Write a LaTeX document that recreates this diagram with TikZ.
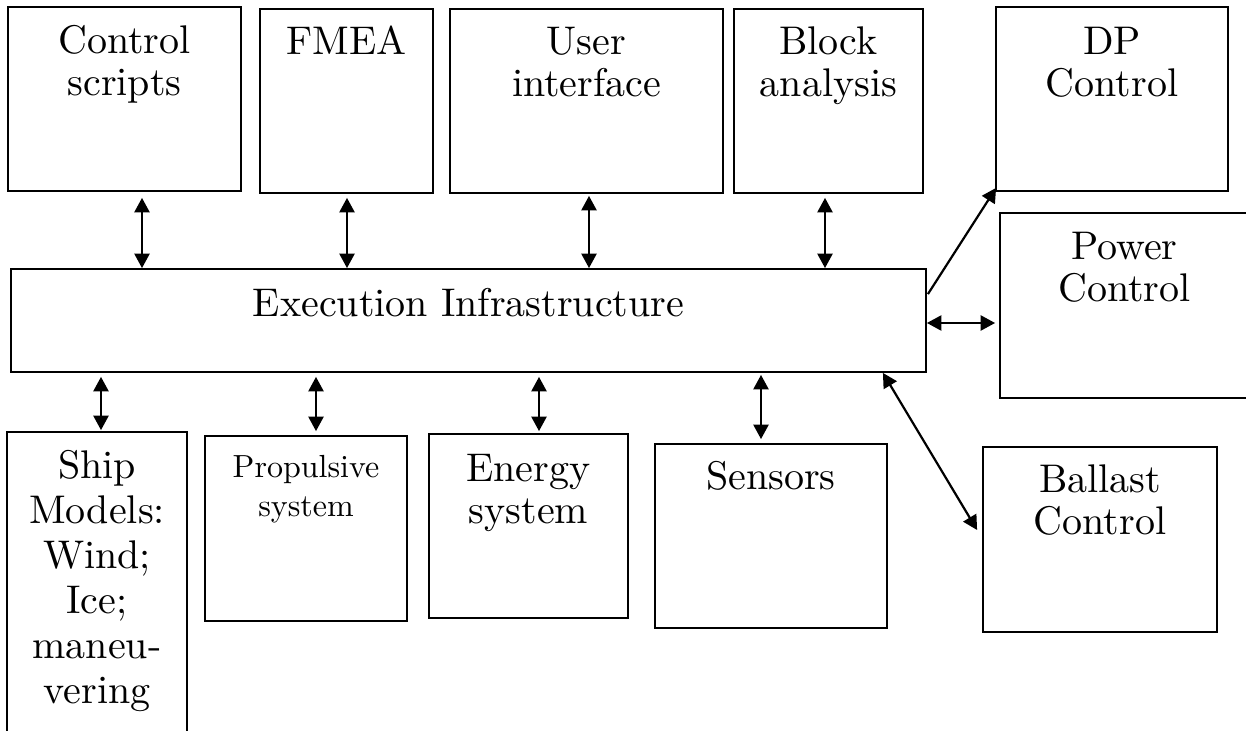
\documentclass[tikz,border=0pt]{standalone}
\usepackage{fontspec}
\setmainfont{lmroman10-regular}[Extension=.otf]
\usetikzlibrary{arrows.meta,calc,fit}

\begin{document}
\begin{tikzpicture}[
  x=0.5pt, y=-0.5pt,
  box/.style={draw, line width=0.9pt, rectangle, inner sep=0pt},
  lbl/.style={anchor=north, inner sep=0pt, align=center,
              font=\fontsize{20}{21}\selectfont},
  shiplbl/.style={lbl, font=\fontsize{20}{22.5}\selectfont},
  smalllbl/.style={lbl, font=\fontsize{16}{19.5}\selectfont},
  bi/.style={line width=1.1pt, {Triangle[length=7.2pt,width=7.5pt]}-{Triangle[length=7.2pt,width=7.5pt]}},
  uni/.style={line width=1.1pt, -{Triangle[length=7.2pt,width=7.5pt]}}
]
\path[use as bounding box, clip] (0,0) rectangle (1246,731);

% boxes of the top row
\node[box, fit={(8,7) (241,191)}]    (cs)   {};
\node[box, fit={(260,9) (433,193)}]  (fmea) {};
\node[box, fit={(450,9) (723,193)}]  (ui)   {};
\node[box, fit={(734,9) (923,193)}]  (ba)   {};
\node[box, fit={(996,7) (1228,191)}] (dp)   {};
\node[box, fit={(1000,213) (1249,398)}] (pc) {};

% central execution layer
\node[box, fit={(11,269) (926,372)}] (exec) {};

% boxes of the bottom row
\node[box, fit={(7,432) (187,760)}]   (ship) {};
\node[box, fit={(205,436) (407,621)}] (prop) {};
\node[box, fit={(429,434) (628,618)}] (en)   {};
\node[box, fit={(655,444) (887,628)}] (sen)  {};
\node[box, fit={(983,447) (1217,632)}] (bal) {};

% labels
\node[lbl] at ($(cs.north)+(0,18)$)   {\strut Control\\scripts};
\node[lbl] at ($(fmea.north)+(0,17)$) {\strut FMEA};
\node[lbl] at ($(ui.north)+(0,17)$)   {\strut User\\interface};
\node[lbl] at ($(ba.north)+(0,17)$)   {\strut Block\\analysis};
\node[lbl] at ($(dp.north)+(0,19)$)   {\strut DP\\Control};
\node[lbl] at ($(pc.north)+(0,18)$)   {\strut Power\\Control};
\node[lbl] at ($(exec.north)+(0,19)$) {\strut Execution Infrastructure};
\node[shiplbl] at ($(ship.north)+(0,15)$) {\strut Ship\\Models:\\Wind;\\Ice;\\maneu-\\vering};
\node[smalllbl] at ($(prop.north)+(0,15)$) {\strut Propulsive\\system};
\node[lbl] at ($(en.north)+(0,19)$)   {\strut Energy\\system};
\node[lbl] at ($(sen.north)+(0,17)$)  {\strut Sensors};
\node[lbl] at ($(bal.north)+(0,17)$)  {\strut Ballast\\Control};

% links between the top row and the execution layer
\draw[bi] ($(cs.south)+(17.5,6)$)  -- ($(cs.south |- exec.north)+(17.5,0)$);
\draw[bi] ($(fmea.south)+(0.5,4)$) -- ($(fmea.south |- exec.north)+(0.5,0)$);
\draw[bi] ($(ui.south)+(2.5,2)$)   -- ($(ui.south |- exec.north)+(2.5,0)$);
\draw[bi] ($(ba.south)+(-3.5,4)$)  -- ($(ba.south |- exec.north)+(-3.5,0)$);

% links between the execution layer and the bottom row
\draw[bi] ($(ship.north |- exec.south)+(4,4)$)   -- ($(ship.north)+(4,-1)$);
\draw[bi] ($(prop.north |- exec.south)+(10,4)$)  -- ($(prop.north)+(10,-4)$);
\draw[bi] ($(en.north |- exec.south)+(10.5,4)$)  -- ($(en.north)+(10.5,-2)$);
\draw[bi] ($(sen.north |- exec.south)+(-10,2)$)  -- ($(sen.north)+(-10,-4)$);

% links to the controllers on the right
\draw[uni] ($(exec.north east)+(1,26)$) -- ($(dp.south west)+(1,-4)$);
\draw[bi]  ($(exec.east)+(0,2.5)$) -- ($(pc.west |- exec.east)+(-4,2.5)$);
\draw[bi]  ($(exec.south east)+(-44,0)$) -- ($(bal.west)+(-5,-9.5)$);
\end{tikzpicture}
\end{document}
